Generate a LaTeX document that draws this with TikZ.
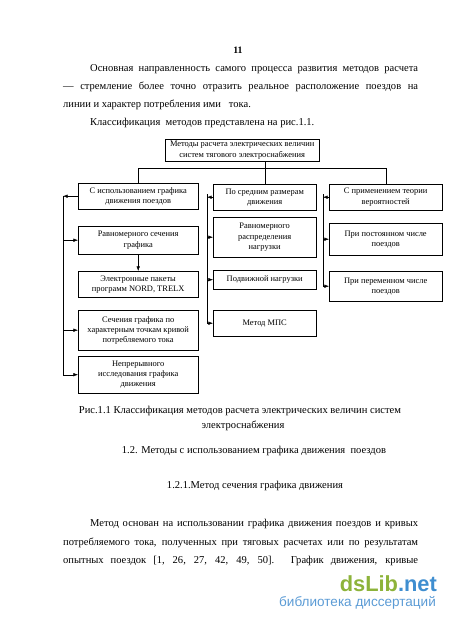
\documentclass[tikz,border=0pt]{standalone}
\usepackage{fontspec}
\setmainfont{Liberation Serif}
\newfontfamily\wmfont{Liberation Sans}
\usetikzlibrary{arrows.meta}

\newlength\pxl
\setlength\pxl{0.4667mm}
\newcommand\dfont{\fontsize{11.2}{13.5}\selectfont}
\newcommand\bfont{\fontsize{14}{17}\selectfont}
\definecolor{wmgreen}{HTML}{8DB33A}
\definecolor{wmblue}{HTML}{3F8ED0}
\definecolor{wmlight}{HTML}{5B9BD5}

\tikzset{
  box/.style={draw, line width=0.5pt, align=center, inner sep=1pt, font=\dfont, anchor=north west},
  lbox/.style={box, minimum width=120*\pxl},
  mbox/.style={box, minimum width=103*\pxl},
  rbox/.style={box, minimum width=113*\pxl},
  txt/.style={inner sep=0pt, font=\bfont, anchor=base west},
  ctxt/.style={inner sep=0pt, font=\bfont, anchor=base},
  link/.style={line width=0.5pt},
  arr/.style={link, -{Latex[length=6pt,width=4.5pt]}}
}

\begin{document}
\begin{tikzpicture}[x=0.4667mm, y=-0.4667mm]
\useasboundingbox (0,0) rectangle (450,618);

\node[ctxt, font=\bfseries\fontsize{13}{15}\selectfont] (pnum) at (238,54) {11};
\node[txt] (par1) at (90,72) {\makebox[328\pxl][s]{Основная направленность самого процесса развития методов расчета}};
\node[txt] (par2) at (63,90) {\makebox[355\pxl][s]{— стремление более точно отразить реальное расположение поездов на}};
\node[txt] (par3) at (63,108) {линии и характер потребления ими\ \ \ тока.};
\node[txt] (par4) at (90,126) {Классификация\ \ методов представлена на рис.1.1.};

% diagram
\node[box, minimum width=154*\pxl, minimum height=22*\pxl] (top) at (165,139) {Методы расчета электрических величин\\систем тягового электроснабжения};

\node[lbox, minimum height=26*\pxl] (l1) at (78,183) {С использованием графика\\движения поездов};
\node[lbox, minimum height=28*\pxl] (l2) at (78,226) {Равномерного сечения\\графика};
\node[lbox, minimum height=26*\pxl] (l3) at (78,271) {Электронные пакеты\\программ NORD, TRELX};
\node[lbox, minimum height=40*\pxl] (l4) at (78,310) {Сечения графика по\\характерным точкам кривой\\потребляемого тока};
\node[lbox, minimum height=37*\pxl] (l5) at (78,356) {Непрерывного\\исследования графика\\движения};

\node[mbox, minimum height=26*\pxl] (m1) at (213,184) {По средним размерам\\движения};
\node[mbox, minimum height=40*\pxl] (m2) at (213,217) {Равномерного\\распределения\\нагрузки};
\node[mbox, minimum height=19*\pxl] (m3) at (213,270) {Подвижной нагрузки};
\node[mbox, minimum height=26*\pxl] (m4) at (213,310) {Метод МПС};

\node[rbox, minimum height=26*\pxl] (r1) at (329,184) {С применением теории\\вероятностей};
\node[rbox, minimum height=32*\pxl] (r2) at (329,223) {При постоянном числе\\поездов};
\node[rbox, minimum height=30*\pxl] (r3) at (329,271) {При переменном числе\\поездов};

\coordinate (bus) at (0,168);
\coordinate (lbr) at (63,0);
\coordinate (mbr) at (207,0);
\coordinate (rbr) at (323,0);

\draw[link] (l1.north) -- (l1.north |- bus) -- (r1.north |- bus) -- (r1.north);
\draw[link] (top.south -| m1.north) -- (m1.north);

\draw[arr] (l1.west) -- (l1.west -| lbr);
\draw[link] (l1.west -| lbr) -- (l5.west -| lbr);
\foreach \b in {l2,l4,l5}
  \draw[arr] (\b.west -| lbr) -- (\b.west);
\draw[arr] (l2.south) -- (l3.north);

\draw[arr] (m1.west) -- (m1.west -| mbr);
\draw[link] (m1.west -| mbr) ++(0,-3) -- (m4.west -| mbr);
\foreach \b in {m2,m3,m4}
  \draw[arr] (\b.west -| mbr) -- (\b.west);

\draw[arr] (r1.west) -- (r1.west -| rbr);
\draw[link] (r1.west -| rbr) ++(0,-3) -- (r3.west -| rbr);
\foreach \b in {r2,r3}
  \draw[arr] (\b.west -| rbr) -- (\b.west);

% caption and headings
\node[ctxt] (cap1) at (240,413) {Рис.1.1 Классификация методов расчета электрических величин систем};
\node[ctxt] (cap2) at (243,428) {электроснабжения};
\node[ctxt] (sec) at (254,453) {1.2. Методы с использованием графика движения\ \ поездов};
\node[ctxt] (subsec) at (255,488) {1.2.1.Метод сечения графика движения};

\node[txt] (txt1) at (90,526) {\makebox[328\pxl][s]{Метод основан на использовании графика движения поездов и кривых}};
\node[txt] (txt2) at (63,545) {\makebox[355\pxl][s]{потребляемого тока, полученных при тяговых расчетах или по результатам}};
\node[txt] (txt3) at (63,563) {\makebox[355\pxl][s]{опытных поездок [1, 26, 27, 42, 49, 50]. График движения, кривые}};

% watermark
\node[inner sep=0pt, anchor=base east, font=\wmfont\bfseries\fontsize{29}{31}\selectfont] (wm1) at (437,591) {\textcolor{wmgreen}{dsLib}\textcolor{wmblue}{.net}};
\node[inner sep=0pt, anchor=base east, font=\wmfont\fontsize{18}{20}\selectfont, text=wmlight] (wm2) at (436,606) {библиотека диссертаций};
\end{tikzpicture}
\end{document}
